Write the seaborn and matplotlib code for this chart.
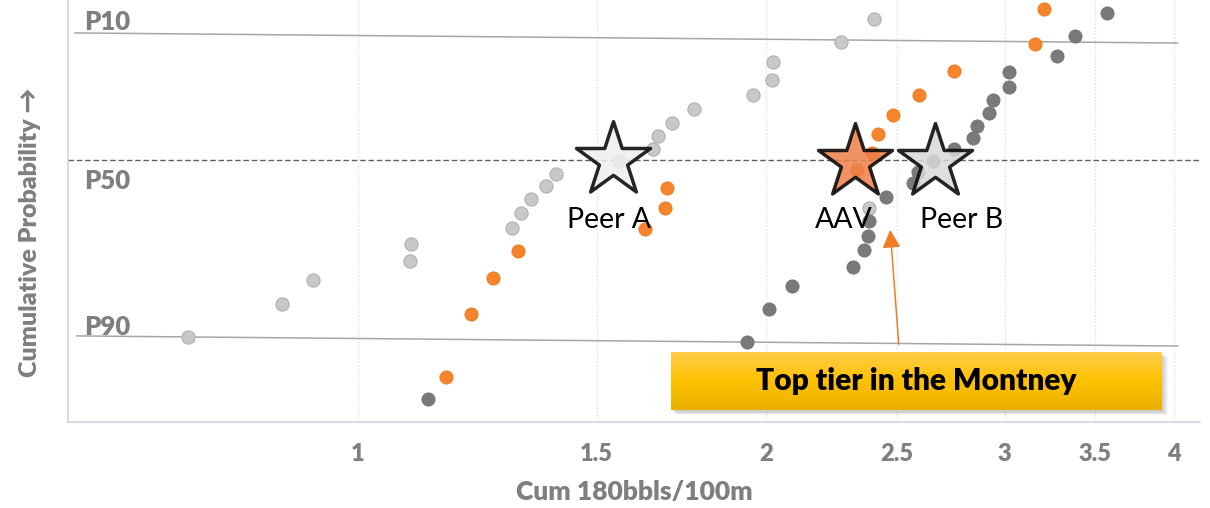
import numpy as np
import pandas as pd
import seaborn as sns
import matplotlib.pyplot as plt
from matplotlib.patches import Rectangle

# Valores (x = Cum 180bbls/100m, y = posicao relativa 0-100 no eixo de probabilidade)
cinza_x = [0.749, 0.879, 0.926, 1.092, 1.094, 1.299, 1.319, 1.342, 1.376, 1.400, 1.558,
           1.651, 1.665, 1.705, 1.770, 1.956, 2.021, 2.024, 2.272, 2.403, 2.383]
cinza_y = [20.1, 28.0, 33.6, 38.2, 42.2, 46.0, 49.5, 52.8, 55.9, 58.8, 61.8,
           64.7, 67.8, 70.9, 74.2, 77.5, 81.0, 85.3, 90.0, 95.5, 50.7]

laranja_x = [1.161, 1.212, 1.258, 1.312, 1.628, 1.685, 1.690, 2.334, 2.395, 2.419,
             2.482, 2.594, 2.753, 3.159, 3.208]
laranja_y = [10.7, 25.6, 34.1, 40.5, 45.7, 50.7, 55.5, 59.7, 63.7, 68.2,
             72.7, 77.5, 83.2, 89.6, 97.9]

escuro_x = [1.126, 1.936, 2.010, 2.090, 2.319, 2.362, 2.379, 2.383, 2.452, 2.567, 2.589,
            2.656, 2.753, 2.843, 2.862, 2.921, 2.941, 3.022, 3.022, 3.279, 3.381, 3.570]
escuro_y = [5.5, 19.0, 26.8, 32.2, 36.7, 40.8, 44.1, 47.6, 53.3, 56.6, 59.2,
            61.8, 64.7, 67.3, 70.1, 73.2, 76.3, 79.4, 82.9, 86.7, 91.5, 96.9]

# Estrelas (pares e AAV)
estrela_nome = ['Peer A', 'AAV', 'Peer B']
estrela_x = [1.542, 2.327, 2.665]
estrela_y = [62.1, 61.6, 61.6]

# Linhas P10 / P50 / P90
p10_x = [0.618, 4.027]
p10_y = [92.2, 89.8]
p90_x = [0.620, 4.027]
p90_y = [20.4, 18.0]
p50_y = 62.1

ticks_x = [1, 1.5, 2, 2.5, 3, 3.5, 4]

fonte = ['Lato', 'DejaVu Sans']
cinza_txt = '#7f7f7f'

sns.set_theme(style='white')
plt.rcParams['font.family'] = fonte

fig = plt.figure(figsize=(12.1, 5.08), dpi=100)
ax = fig.add_axes([68 / 1210, 86 / 508, 1132 / 1210, 422 / 508])

# Criando o grafico de dispersao
sns.scatterplot(x=cinza_x, y=cinza_y, ax=ax, color='#c8c8c8', edgecolor='#b0b0b0',
                linewidth=0.8, s=90, zorder=3)
sns.scatterplot(x=laranja_x, y=laranja_y, ax=ax, color='#f5842c', edgecolor='#e9781f',
                linewidth=0.6, s=90, zorder=3)
sns.scatterplot(x=escuro_x, y=escuro_y, ax=ax, color='#7a7a7a', edgecolor='#727272',
                linewidth=0.6, s=90, zorder=3)

cores_estrela = ['#efefef', '#ef7f4a', '#d9d9d9']
for nome, x, y, cor in zip(estrela_nome, estrela_x, estrela_y, cores_estrela):
    sns.scatterplot(x=[x], y=[y], ax=ax, marker='*', s=56 ** 2, color=cor, alpha=0.85,
                    edgecolor='black', linewidth=2.5, zorder=4)

desloc = {'Peer A': (-3, -43), 'AAV': (-8, -42), 'Peer B': (19, -42)}
for nome, x, y in zip(estrela_nome, estrela_x, estrela_y):
    ax.annotate(nome, (x, y), xytext=desloc[nome], textcoords='offset points',
                ha='center', va='center', fontsize=20.5, color='black', zorder=5)

# Linhas de referencia
ax.plot(p10_x, p10_y, color='#a6a6a6', lw=1.1, zorder=2)
ax.plot(p90_x, p90_y, color='#a6a6a6', lw=1.1, zorder=2)
ax.axhline(p50_y, color='#606060', lw=1.0, ls=(0, (4, 2)), zorder=2)

for txt, y in [('P10', 94.8), ('P50', 57.1), ('P90', 22.5)]:
    ax.text(0.628, y, txt, fontsize=18.5, fontweight='heavy', color=cinza_txt,
            ha='left', va='center')

ax.set_xscale('log')
ax.set_xlim(0.611, 4.181)
ax.set_ylim(0, 100)
ax.set_xticks(ticks_x)
ax.set_xticklabels([f'{t:g}' for t in ticks_x])
ax.minorticks_off()
ax.set_yticks([])
ax.tick_params(axis='x', length=0, pad=15, labelsize=17, labelcolor=cinza_txt)
for lbl in ax.get_xticklabels():
    lbl.set_fontweight('heavy')
ax.grid(axis='x', color='#d9d9d9', ls=':', lw=0.9)
ax.set_axisbelow(True)
for lado in ['top', 'right']:
    ax.spines[lado].set_visible(False)
for lado in ['left', 'bottom']:
    ax.spines[lado].set_color('#d0d4e0')
    ax.spines[lado].set_linewidth(1.2)

ax.set_xlabel('Cum 180bbls/100m', fontsize=19, fontweight='heavy', color=cinza_txt, labelpad=11)
fig.text(30 / 1210, 1 - 232 / 508, 'Cumulative Probability \u2192', rotation=90,
         ha='center', va='center', fontsize=18, fontweight='heavy', color=cinza_txt)

# Seta laranja
ax.annotate('', xy=(2.469, 46.2), xytext=(2.507, 17.8),
            arrowprops=dict(arrowstyle='-|>,head_length=0.5,head_width=0.25',
                            color='#f07d23', lw=1.1, mutation_scale=22), zorder=5)

# Caixa amarela com gradiente e sombra suave
for i in range(6):
    sombra = Rectangle(((672 + i) / 1210, 1 - (412 + i * 0.5) / 508), 491 / 1210, 58 / 508,
                       transform=fig.transFigure, color='#808080', alpha=0.07, lw=0, zorder=5)
    fig.patches.append(sombra)
caixa = fig.add_axes([671 / 1210, 1 - 410 / 508, 491 / 1210, 58 / 508], zorder=6)
grad = np.linspace(0, 1, 100)[:, None]
top = np.array([1.0, 0.80, 0.30])
mid = np.array([1.0, 0.76, 0.0])
bot = np.array([0.91, 0.69, 0.0])
cores = np.where(grad < 0.5, top + (mid - top) * (grad / 0.5),
                 mid + (bot - mid) * ((grad - 0.5) / 0.5))
caixa.imshow(cores.reshape(100, 1, 3), aspect='auto', extent=[0, 1, 0, 1])
caixa.set_axis_off()
caixa.text(0.5, 0.5, 'Top tier in the Montney', ha='center', va='center',
           fontsize=21.5, fontweight='heavy', color='black', transform=caixa.transAxes)

fig.savefig('out.png', dpi=100)
